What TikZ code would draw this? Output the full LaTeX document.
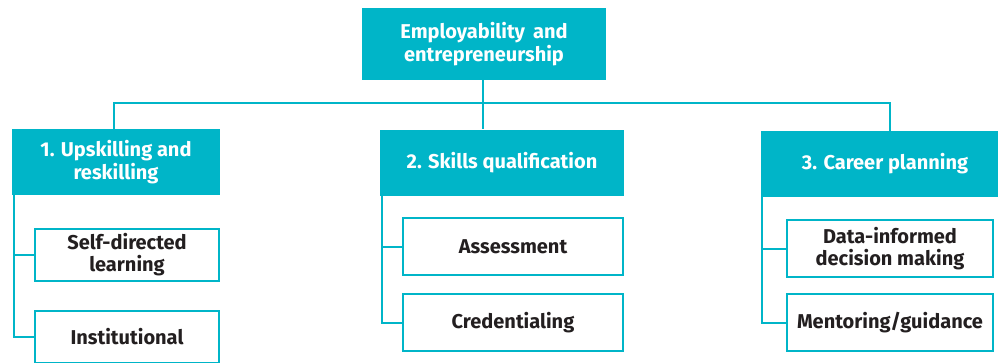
\documentclass[tikz,border=0pt]{standalone}
\usepackage{fontspec}
\setmainfont{Fira Sans}
\definecolor{teal}{RGB}{0,181,200}
\definecolor{ink}{RGB}{35,31,32}
\tikzset{
  head/.style={fill=teal, draw=none, text=white, font=\fontsize{20}{23.5}\selectfont\bfseries, align=center, inner sep=0pt},
  sub/.style={fill=white, draw=teal, line width=2pt, text=ink, font=\fontsize{20}{22}\selectfont\bfseries, align=center, inner sep=0pt},
  link/.style={draw=teal, line width=2pt}
}
\begin{document}
\begin{tikzpicture}[x=1pt,y=-1pt]
\useasboundingbox (0,0) rectangle (998,362);
\clip (0,0) rectangle (998,362);
% headers
\node[head, minimum width=244pt, minimum height=72pt] (top) at (484,44) {Employability\, and\\entrepreneurship};
\node[head, minimum width=208pt, minimum height=66pt] (b1) at (116,162) {1. Upskilling and\\reskilling};
\node[head, minimum width=244pt, minimum height=66pt] (b2) at (502,163) {2. Skills qualification};
\node[head, minimum width=248pt, minimum height=66pt] (b3) at (885,164) {3. Career planning};
% sub boxes
\node[sub, minimum width=184pt, minimum height=52pt] (s11) at (127,255) {Self-directed\\learning};
\node[sub, minimum width=184pt, minimum height=52pt] (s12) at (127,337) {Institutional};
\node[sub, minimum width=220pt, minimum height=57pt] (s21) at (513,246.5) {Assessment};
\node[sub, minimum width=220pt, minimum height=57pt] (s22) at (513,322.5) {Credentialing};
\node[sub, minimum width=206pt, minimum height=57pt] (s31) at (890,248.5) {Data-informed\\decision making};
\node[sub, minimum width=206pt, minimum height=57pt] (s32) at (890,322.5) {Mentoring/guidance};
% connectors top
\coordinate (bar1) at (114,103);
\coordinate (bar3) at (890,103);
\coordinate (c2) at (483,129);
\draw[link] (top.south -| c2) -- (c2);
\draw[link] (b1.north -| bar1) -- (bar1) -- (bar3) -- (b3.north -| bar3);
% spines
\coordinate (p1) at (14,195);
\coordinate (p2) at (382,196);
\coordinate (p3) at (762,197);
\draw[link] (p1) |- (s12.west);
\draw[link] (p1 |- s11.west) -- (s11.west);
\draw[link] (p2) |- (s22.west);
\draw[link] (p2 |- s21.west) -- (s21.west);
\draw[link] (p3) |- (s32.west);
\draw[link] (p3 |- s31.west) -- (s31.west);
\end{tikzpicture}
\end{document}
